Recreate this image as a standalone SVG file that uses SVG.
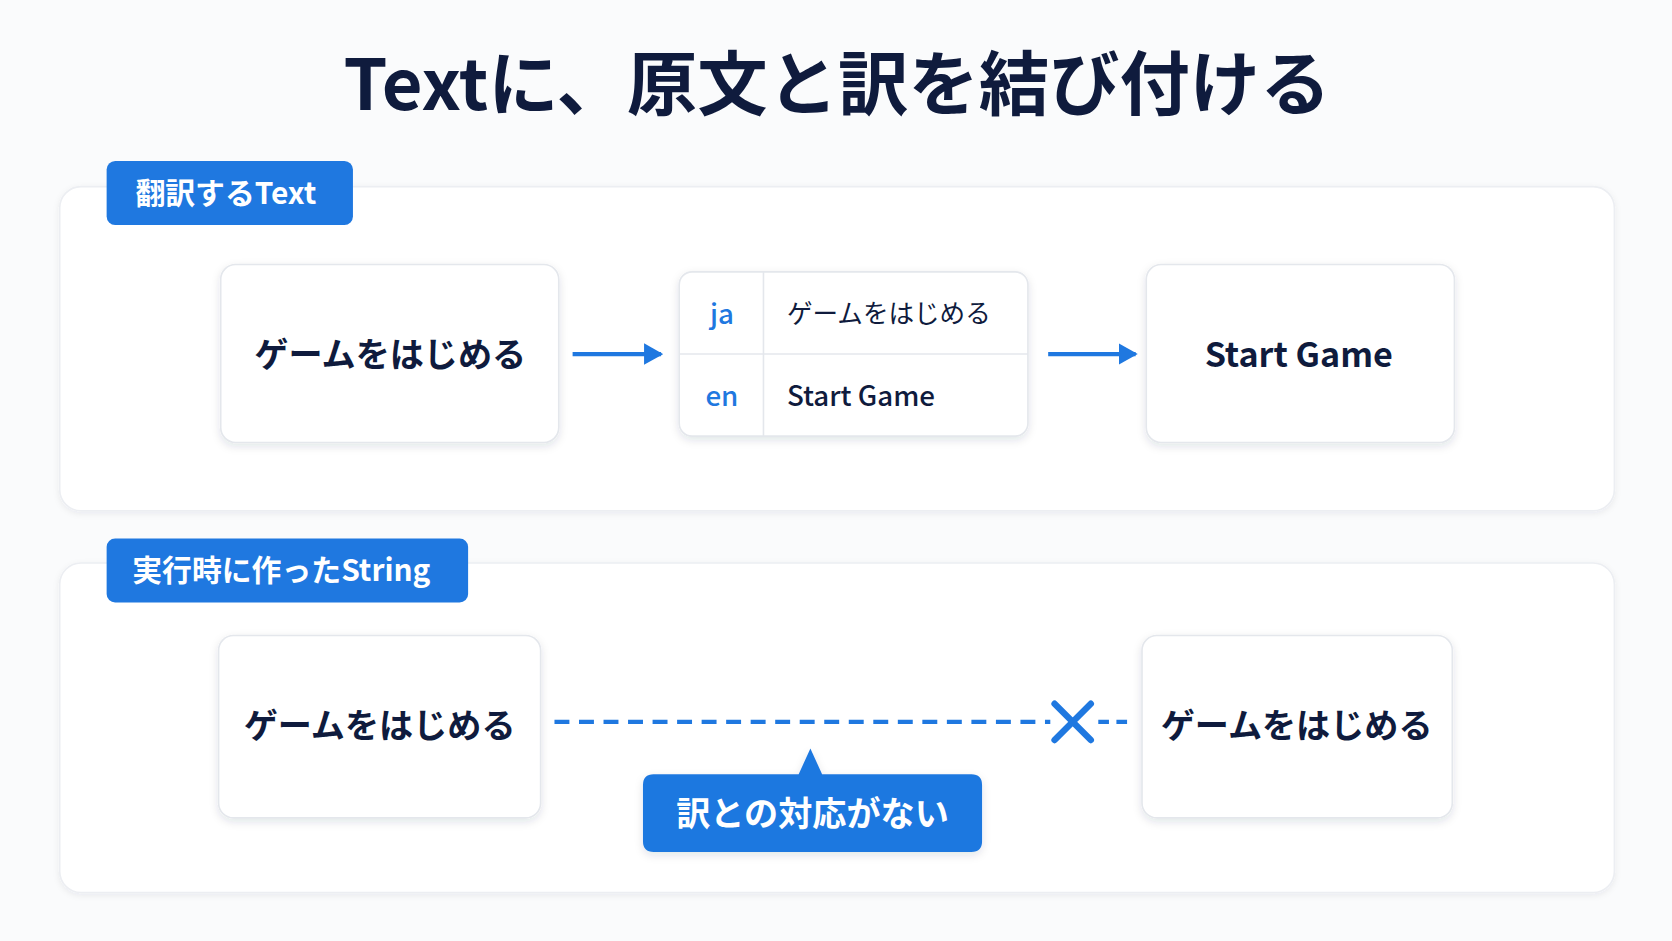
<svg xmlns="http://www.w3.org/2000/svg" width="1672" height="941" viewBox="0 0 1672 941">
<defs>
<filter id="sh" x="-10%" y="-10%" width="120%" height="130%"><feDropShadow dx="0" dy="3" stdDeviation="4" flood-color="#1a2a4a" flood-opacity="0.12"/></filter>
<filter id="sh2" x="-5%" y="-5%" width="110%" height="115%"><feDropShadow dx="0" dy="2" stdDeviation="3" flood-color="#1a2a4a" flood-opacity="0.07"/></filter>
<marker id="ah" markerWidth="18" markerHeight="20" refX="16" refY="10" orient="auto" markerUnits="userSpaceOnUse" viewBox="0 0 18 20"><path d="M0,0 L18,10 L0,20 z" fill="#1f78e0"/></marker>
<style>
text{font-family:"Noto Sans CJK JP","Noto Sans",sans-serif;}
.panel{fill:#fff;stroke:#eceef2;stroke-width:1.5;filter:url(#sh2);}
.node{fill:#fff;stroke:#e4e7ec;stroke-width:1.5;filter:url(#sh);}
.tag{fill:#1f78e0;}
.tagt{fill:#fff;font-weight:700;font-size:28px;}
.nt{fill:#0f1b3d;font-weight:700;font-size:32px;text-anchor:middle;}
.blue{fill:#1f78e0;}
.conn{stroke:#1f78e0;stroke-width:4;fill:none;}
</style>
</defs>
<rect width="1672" height="941" fill="#fafbfc"/>
<g transform="scale(1.0663)">
<text x="785" y="103" text-anchor="middle" font-size="66" font-weight="700" fill="#0f1b3d">Textに、原文と訳を結び付ける</text>
<g id="panel1"><rect class="panel" x="56" y="175" width="1458" height="304" rx="20"/>
<rect class="tag" x="100" y="151" width="231" height="60" rx="8"/><text class="tagt" x="127" y="191">翻訳するText</text></g>
<g id="panel2"><rect class="panel" x="56" y="528" width="1458" height="309" rx="20"/>
<rect class="tag" x="100" y="505" width="339" height="60" rx="8"/><text class="tagt" x="124" y="545">実行時に作ったString</text></g>
<g id="nodeA"><rect class="node" x="207" y="248" width="317" height="167" rx="14"/><text class="nt" x="366" y="344">ゲームをはじめる</text></g>
<g id="table"><rect class="node" x="637" y="255" width="327" height="154" rx="12"/>
<line x1="716" y1="255" x2="716" y2="409" stroke="#e4e7ec" stroke-width="1.5"/>
<line x1="637" y1="332" x2="964" y2="332" stroke="#e4e7ec" stroke-width="1.5"/>
<text class="blue" x="677" y="304" text-anchor="middle" font-size="26" font-weight="500">ja</text>
<text x="738" y="303" font-size="24" fill="#0f1b3d">ゲームをはじめる</text>
<text class="blue" x="677" y="381" text-anchor="middle" font-size="26" font-weight="500">en</text>
<text x="738" y="381" font-size="26" font-weight="500" fill="#0f1b3d">Start Game</text></g>
<g id="nodeC"><rect class="node" x="1075" y="248" width="289" height="167" rx="14"/><text class="nt" x="1218" y="344">Start Game</text></g>
<g id="nodeD"><rect class="node" x="205" y="596" width="302" height="171" rx="14"/><text class="nt" x="356" y="692">ゲームをはじめる</text></g>
<g id="nodeE"><rect class="node" x="1071" y="596" width="291" height="171" rx="14"/><text class="nt" x="1216" y="692">ゲームをはじめる</text></g>
<g id="connectors">
<line class="conn" x1="537" y1="332" x2="620" y2="332" marker-end="url(#ah)"/>
<line class="conn" x1="983" y1="332" x2="1065" y2="332" marker-end="url(#ah)"/>
<line class="conn" x1="520" y1="677" x2="985" y2="677" stroke-dasharray="14 9"/>
<line class="conn" x1="1030" y1="677" x2="1062" y2="677" stroke-dasharray="10 7"/>
<path d="M989,660 L1023,694 M1023,660 L989,694" stroke="#1f78e0" stroke-width="6" stroke-linecap="round"/>
</g>
<g id="callout"><path d="M613,726 H749 L760,702 L771,726 H911 Q921,726 921,736 V789 Q921,799 911,799 H613 Q603,799 603,789 V736 Q603,726 613,726 Z" fill="#1f78e0" filter="url(#sh)"/>
<text x="762" y="775" text-anchor="middle" font-size="32" font-weight="700" fill="#fff">訳との対応がない</text></g>
</g>
</svg>
